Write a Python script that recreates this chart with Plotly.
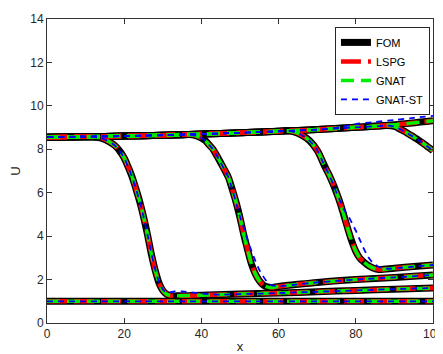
import plotly.graph_objects as go

# ---------------- data ----------------
# Snapshot 0: initial state
s0_x = [0, 100]
s0_u = [1.0, 1.0]

# Snapshot 1: shock near x = 25
s1_x = [0, 10, 13, 15, 17, 18, 19, 20, 21, 22, 23, 24, 25, 26, 27, 28, 29, 30, 31, 32, 34,
        40, 50, 60, 70, 80, 90, 100]
s1_u = [8.56, 8.58, 8.55, 8.45, 8.25, 8.1, 7.88, 7.6, 7.2, 6.75, 6.2, 5.6, 4.9, 4.1, 3.2,
        2.45, 1.85, 1.5, 1.32, 1.26, 1.25, 1.28, 1.33, 1.38, 1.44, 1.50, 1.56, 1.61]

# Snapshot 2: shock near x = 50
s2_x = [0, 10, 20, 30, 37, 39, 41, 42, 43, 44, 45, 46, 47, 48, 49, 50, 51, 52, 53, 54, 55,
        56, 57, 58, 60, 65, 70, 80, 90, 100]
s2_u = [8.56, 8.58, 8.61, 8.65, 8.68, 8.6, 8.4, 8.2, 8.0, 7.7, 7.38, 7.05, 6.7, 6.15, 5.55,
        4.85, 4.05, 3.35, 2.7, 2.25, 1.95, 1.75, 1.66, 1.63, 1.68, 1.78, 1.87, 2.0, 2.1, 2.21]

# Snapshot 3: shock near x = 76
s3_x = [0, 10, 20, 30, 40, 50, 60, 62, 64, 66, 68, 70, 72, 73, 74, 75, 76, 77, 78, 79, 80,
        81, 82, 83, 84, 85, 86, 90, 95, 100]
s3_u = [8.56, 8.58, 8.61, 8.65, 8.70, 8.76, 8.83, 8.86, 8.8, 8.65, 8.4, 7.95, 7.2, 6.85,
        6.45, 6.0, 5.5, 4.9, 4.3, 3.75, 3.3, 3.0, 2.82, 2.68, 2.57, 2.5, 2.46, 2.52, 2.6, 2.67]

# Snapshot 4: shock reaching the right boundary
s4_x = [0, 10, 20, 30, 40, 50, 60, 70, 80, 86, 88, 90, 91, 92, 93, 94, 95, 96, 97, 98, 99, 100]
s4_u = [8.56, 8.58, 8.61, 8.65, 8.70, 8.76, 8.83, 8.91, 9.01, 9.07, 9.09, 9.05, 8.97, 8.88,
        8.78, 8.67, 8.57, 8.45, 8.33, 8.2, 8.07, 7.93]

# Snapshot 5: shock has left the domain
s5_x = [0, 10, 20, 30, 40, 50, 60, 70, 80, 90, 100]
s5_u = [8.56, 8.58, 8.61, 8.65, 8.70, 8.76, 8.83, 8.91, 9.01, 9.13, 9.31]

# GNAT-ST deviates slightly from FOM in a few snapshots
st1_x = [0, 10, 13, 15, 17, 18, 19, 20, 21, 22, 23, 24, 25, 26, 27, 28, 29, 30, 31, 32, 33,
         35, 37, 40, 45, 50, 60, 70, 80, 90, 100]
st1_u = [8.56, 8.58, 8.55, 8.45, 8.25, 8.1, 7.88, 7.6, 7.2, 6.75, 6.2, 5.6, 4.9, 4.1, 3.25,
         2.5, 1.9, 1.55, 1.4, 1.42, 1.45, 1.45, 1.42, 1.36, 1.31, 1.33, 1.38, 1.44, 1.50, 1.56, 1.61]

st2_x = [0, 10, 20, 30, 37, 39, 41, 42, 43, 44, 45, 46, 47, 48, 49, 50, 51, 52, 53, 54, 55,
         56, 57, 58, 60, 65, 70, 80, 90, 100]
st2_u = [8.56, 8.58, 8.61, 8.65, 8.68, 8.6, 8.4, 8.2, 8.0, 7.7, 7.38, 7.05, 6.7, 6.15, 5.55,
         4.9, 4.35, 3.8, 3.3, 2.85, 2.45, 2.15, 1.9, 1.75, 1.7, 1.78, 1.87, 2.0, 2.1, 2.21]

st3_x = [0, 10, 20, 30, 40, 50, 60, 62, 64, 66, 68, 70, 72, 73, 74, 75, 76, 77, 78, 79, 80,
         81, 82, 83, 84, 85, 86, 88, 90, 95, 100]
st3_u = [8.56, 8.58, 8.61, 8.65, 8.70, 8.76, 8.83, 8.86, 8.8, 8.65, 8.4, 7.95, 7.2, 6.85,
         6.45, 6.0, 5.6, 5.2, 4.95, 4.6, 4.25, 3.85, 3.45, 3.1, 2.85, 2.7, 2.58, 2.5, 2.52, 2.6, 2.67]

st5_x = [0, 10, 20, 30, 40, 50, 60, 70, 72, 76, 80, 85, 90, 95, 100]
st5_u = [8.56, 8.58, 8.61, 8.65, 8.70, 8.76, 8.83, 8.91, 8.93, 9.02, 9.16, 9.26, 9.35, 9.45, 9.54]

methods = ["FOM", "LSPG", "GNAT", "GNAT-ST"]

fom_snaps = [(s0_x, s0_u), (s1_x, s1_u), (s2_x, s2_u), (s3_x, s3_u), (s4_x, s4_u), (s5_x, s5_u)]
st_snaps = [(s0_x, s0_u), (st1_x, st1_u), (st2_x, st2_u), (st3_x, st3_u), (s4_x, s4_u), (st5_x, st5_u)]
method_snaps = {"FOM": fom_snaps, "LSPG": fom_snaps, "GNAT": fom_snaps, "GNAT-ST": st_snaps}


def join(snaps):
    xs, us = [], []
    for x, u in snaps:
        xs += list(x) + [None]
        us += list(u) + [None]
    return xs, us


styles = {
    "FOM": dict(color="#000000", width=7, dash="solid"),
    "LSPG": dict(color="#ff0000", width=4.5, dash="20px,7px"),
    "GNAT": dict(color="#00ee00", width=3.5, dash="13px,7px"),
    "GNAT-ST": dict(color="#0000ff", width=1.8, dash="6px,5px"),
}

fig = go.Figure()
for m in methods:
    xs, us = join(method_snaps[m])
    fig.add_trace(go.Scatter(x=xs, y=us, mode="lines", name=m,
                             line=dict(shape="spline", smoothing=0.9, **styles[m]),
                             connectgaps=False))

font = "Liberation Sans, Arial, Helvetica, sans-serif"
axis_common = dict(
    showline=True, linecolor="#333333", linewidth=1, mirror="ticks",
    ticks="inside", ticklen=5, tickcolor="#333333", tickwidth=1,
    showgrid=False, zeroline=False, automargin=False,
    ticklabeloverflow="allow",
    tickfont=dict(family=font, size=12, color="#262626"),
)

# The page body adds an 8px offset, so the figure is sized to fit the window.
fig.update_layout(
    width=435, height=346,
    margin=dict(l=39, r=10, t=11, b=31),
    paper_bgcolor="white", plot_bgcolor="white",
    font=dict(family=font, size=12, color="#262626"),
    xaxis=dict(range=[0, 100], tickvals=[0, 20, 40, 60, 80, 100],
               title=dict(text="x", standoff=3, font=dict(size=13)), **axis_common),
    yaxis=dict(range=[0, 14], tickvals=[0, 2, 4, 6, 8, 10, 12, 14],
               title=dict(text="U", standoff=9, font=dict(size=13)), **axis_common),
    legend=dict(x=0.746, y=0.974, xanchor="left", yanchor="top",
                bgcolor="white", bordercolor="#262626", borderwidth=1,
                font=dict(family=font, size=11, color="#000000"),
                itemwidth=30, tracegroupgap=0),
    showlegend=True,
)

fig.write_html("out.html")
